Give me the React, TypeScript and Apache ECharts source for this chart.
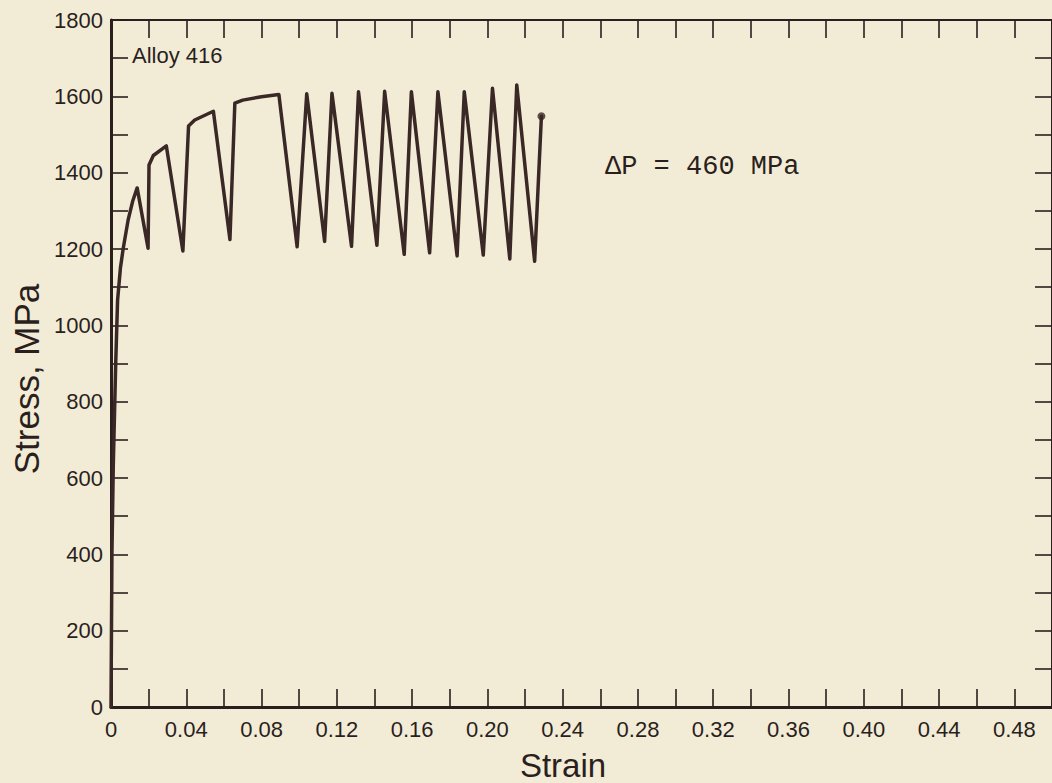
import React, { useEffect, useRef } from "react";
import * as echarts from "echarts";

// Stress-strain record, Alloy 416 (strain, stress in MPa)
const strain = [
  0, 0.0005, 0.0012, 0.0025, 0.0035, 0.005, 0.0065, 0.0091, 0.0115, 0.0139,
  0.0197, 0.0202, 0.0225, 0.0294,
  0.0382, 0.0412, 0.0445, 0.0544,
  0.0632, 0.0658, 0.07, 0.08, 0.0892,
  0.0989, 0.104, 0.1135, 0.1174, 0.1278, 0.1315, 0.1413, 0.1454, 0.1558, 0.1596,
  0.1693, 0.1737, 0.1839, 0.1877, 0.1978, 0.2027, 0.2119, 0.2156, 0.2251, 0.2287,
];
const stress = [
  0, 400, 630, 900, 1066, 1150, 1202, 1276, 1325, 1360,
  1202, 1420, 1445, 1470,
  1195, 1522, 1538, 1561,
  1225, 1582, 1590, 1599, 1605,
  1206, 1607, 1220, 1608, 1207, 1612, 1210, 1613, 1186, 1612,
  1190, 1612, 1182, 1612, 1184, 1621, 1174, 1630, 1168, 1548,
];

const xTickLabels = ["0", "0.04", "0.08", "0.12", "0.16", "0.20", "0.24", "0.28", "0.32", "0.36", "0.40", "0.44", "0.48"];
const yTickLabels = ["0", "200", "400", "600", "800", "1000", "1200", "1400", "1600", "1800"];

const xTitle = "Strain";
const yTitle = "Stress, MPa";
const alloyLabel = "Alloy 416";
const deltaLabel = "ΔP = 460 MPa";

const ink = "#2a1f1d";
const curveColor = "#3a2826";
const bg = "#f2ecd6";

export default function App() {
  const ref = useRef<HTMLDivElement>(null);

  useEffect(() => {
    document.body.style.margin = "0";
    document.body.style.background = bg;
    if (!ref.current) return;
    const chart = echarts.init(ref.current, undefined, { renderer: "svg" });

    const xFmt = (v: number) => {
      const i = Math.round(v / 0.02);
      if (i % 2 !== 0) return "";
      return xTickLabels[i / 2] ?? "";
    };
    const yFmt = (v: number) => {
      const i = Math.round(v / 100);
      if (i % 2 !== 0) return "";
      return yTickLabels[i / 2] ?? "";
    };

    const labelStyle = {
      color: ink,
      fontSize: 22,
      fontFamily: "Liberation Sans",
    };

    const pts = strain.map((x, i) => [x, stress[i]]);
    const last = pts[pts.length - 1];

    chart.setOption({
      animation: false,
      backgroundColor: bg,
      grid: { left: 111, top: 20, width: 947, height: 687 },
      xAxis: [
        {
          type: "value",
          position: "bottom",
          min: 0,
          max: 0.5,
          interval: 0.02,
          axisLine: { show: true, onZero: false, lineStyle: { color: ink, width: 3 } },
          axisTick: { show: true, inside: true, length: 18, lineStyle: { color: ink, width: 1.6 } },
          axisLabel: { ...labelStyle, formatter: xFmt, margin: 11, showMaxLabel: false },
          splitLine: { show: false },
        },
        {
          type: "value",
          position: "top",
          min: 0,
          max: 0.5,
          interval: 0.02,
          axisLine: { show: true, onZero: false, lineStyle: { color: ink, width: 2 } },
          axisTick: { show: true, inside: true, length: 18, lineStyle: { color: ink, width: 1.6 } },
          axisLabel: { show: false },
          splitLine: { show: false },
        },
      ],
      yAxis: [
        {
          type: "value",
          position: "left",
          min: 0,
          max: 1800,
          interval: 100,
          axisLine: { show: true, onZero: false, lineStyle: { color: ink, width: 3 } },
          axisTick: { show: true, inside: true, length: 17, lineStyle: { color: ink, width: 1.6 } },
          axisLabel: { ...labelStyle, formatter: yFmt, margin: 8 },
          splitLine: { show: false },
        },
        {
          type: "value",
          position: "right",
          min: 0,
          max: 1800,
          interval: 100,
          axisLine: { show: true, onZero: false, lineStyle: { color: ink, width: 2 } },
          axisTick: { show: true, inside: true, length: 17, lineStyle: { color: ink, width: 1.6 } },
          axisLabel: { show: false },
          splitLine: { show: false },
        },
      ],
      series: [
        {
          type: "line",
          data: pts,
          showSymbol: false,
          lineStyle: { color: curveColor, width: 3.5, join: "round", cap: "round" },
          z: 3,
        },
        {
          type: "scatter",
          data: [last],
          symbol: "circle",
          symbolSize: 8,
          itemStyle: { color: curveColor },
          z: 4,
        },
      ],
      graphic: [
        {
          type: "text",
          x: 132,
          y: 55,
          style: {
            text: alloyLabel,
            fill: ink,
            fontSize: 22,
            fontFamily: "Liberation Sans",
            align: "left",
            verticalAlign: "middle",
          },
        },
        {
          type: "text",
          x: 605,
          y: 167,
          style: {
            text: deltaLabel,
            fill: ink,
            fontSize: 27,
            fontFamily: "Liberation Mono",
            align: "left",
            verticalAlign: "middle",
          },
        },
        {
          type: "text",
          x: 26,
          y: 379,
          rotation: Math.PI / 2,
          style: {
            text: yTitle,
            fill: ink,
            fontSize: 35,
            fontFamily: "Liberation Sans",
            align: "center",
            verticalAlign: "middle",
          },
        },
        {
          type: "text",
          x: 563,
          y: 765,
          style: {
            text: xTitle,
            fill: ink,
            fontSize: 33,
            fontFamily: "Liberation Sans",
            align: "center",
            verticalAlign: "middle",
          },
        },
      ],
    });

    return () => chart.dispose();
  }, []);

  return <div ref={ref} style={{ width: 1052, height: 783, background: bg }} />;
}
